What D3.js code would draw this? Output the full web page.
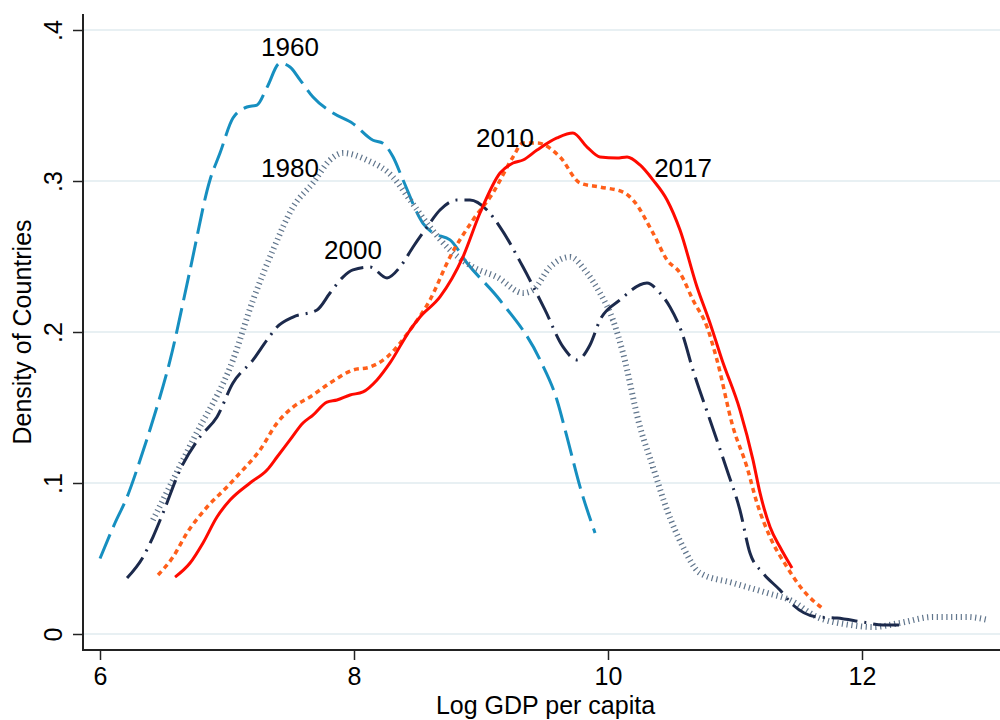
<!DOCTYPE html>
<meta charset="utf-8">
<body style="margin:0; background:#fff">
<script src="https://cdn.jsdelivr.net/npm/d3@7"></script>
<div id="chart"></div>
<script>

 // kernel density of log GDP per capita
 var x1960 = [6.00, 6.118, 6.213, 6.315, 6.417, 6.551, 6.709, 6.866, 6.945, 7.047, 7.157, 7.236, 7.315, 7.417, 7.496, 7.575, 7.677, 7.835, 7.992, 8.15, 8.228, 8.307, 8.386, 8.543, 8.622, 8.756, 8.89, 9.15, 9.465, 9.598, 9.677, 9.78, 9.898];
 var y1960 = [0.050, 0.0735, 0.0907, 0.115, 0.1417, 0.181, 0.241, 0.3007, 0.3185, 0.3417, 0.349, 0.3503, 0.362, 0.378, 0.3755, 0.367, 0.3556, 0.345, 0.338, 0.327, 0.325, 0.316, 0.3007, 0.272, 0.2656, 0.261, 0.2457, 0.221, 0.1815, 0.155, 0.1305, 0.0974, 0.0669];

 var x1980 = [6.417, 6.732, 7.047, 7.205, 7.362, 7.52, 7.677, 7.811, 7.913, 8.102, 8.307, 8.441, 8.598, 8.756, 8.937, 9.126, 9.331, 9.409, 9.543, 9.701, 9.835, 9.937, 10.039, 10.118, 10.252, 10.354, 10.465, 10.591, 10.724, 10.984, 11.252, 11.433, 11.646, 11.906, 12.087, 12.299, 12.559, 12.827, 12.992];
 var y1980 = [0.0755, 0.1285, 0.1815, 0.2212, 0.2543, 0.2828, 0.2987, 0.3139, 0.3185, 0.3139, 0.3026, 0.2874, 0.2695, 0.2543, 0.243, 0.2364, 0.2258, 0.2278, 0.243, 0.2497, 0.2391, 0.2258, 0.208, 0.1861, 0.1371, 0.1106, 0.0821, 0.0576, 0.0404, 0.0338, 0.0272, 0.0225, 0.0113, 0.006, 0.0046, 0.0073, 0.0113, 0.0113, 0.0093];

 var x2000 = [6.213, 6.339, 6.417, 6.496, 6.63, 6.787, 6.921, 7.047, 7.205, 7.315, 7.394, 7.52, 7.709, 7.811, 7.913, 7.992, 8.126, 8.26, 8.362, 8.465, 8.575, 8.677, 8.811, 8.913, 9.047, 9.15, 9.331, 9.504, 9.646, 9.756, 9.858, 9.937, 10.094, 10.307, 10.409, 10.488, 10.583, 10.669, 10.803, 10.937, 11.039, 11.118, 11.22, 11.354, 11.457, 11.646, 11.803, 12.008, 12.165, 12.339];
 var y2000 = [0.0371, 0.051, 0.0642, 0.0801, 0.1086, 0.1305, 0.1437, 0.1662, 0.1815, 0.1947, 0.2033, 0.2099, 0.2146, 0.2258, 0.2364, 0.2411, 0.243, 0.2358, 0.243, 0.2563, 0.2695, 0.2808, 0.2874, 0.2874, 0.2808, 0.2695, 0.243, 0.2146, 0.1901, 0.1815, 0.1914, 0.2079, 0.2212, 0.2325, 0.2258, 0.2166, 0.1993, 0.1748, 0.1417, 0.1086, 0.0821, 0.0536, 0.0404, 0.0291, 0.0192, 0.0113, 0.0106, 0.0079, 0.006, 0.006];

 var x2010 = [6.457, 6.575, 6.685, 6.843, 7.0, 7.102, 7.26, 7.394, 7.52, 7.654, 7.811, 7.992, 8.126, 8.26, 8.441, 8.598, 8.756, 8.937, 9.094, 9.252, 9.331, 9.441, 9.622, 9.78, 9.937, 10.118, 10.197, 10.354, 10.465, 10.567, 10.669, 10.78, 10.858, 10.984, 11.094, 11.173, 11.276, 11.409, 11.535, 11.685];
 var y2010 = [0.0391, 0.051, 0.0669, 0.0841, 0.0974, 0.1066, 0.1219, 0.1397, 0.1503, 0.157, 0.1662, 0.1748, 0.1768, 0.1834, 0.2013, 0.2212, 0.2497, 0.2742, 0.2921, 0.3159, 0.3252, 0.3252, 0.3159, 0.2987, 0.296, 0.2927, 0.2874, 0.2656, 0.2477, 0.2391, 0.2212, 0.2033, 0.1815, 0.1371, 0.1106, 0.0868, 0.0642, 0.0444, 0.0291, 0.0172];

 var x2017 = [6.591, 6.709, 6.811, 6.921, 7.024, 7.181, 7.315, 7.394, 7.496, 7.598, 7.677, 7.787, 7.866, 7.969, 8.071, 8.181, 8.283, 8.441, 8.52, 8.677, 8.858, 8.992, 9.15, 9.252, 9.331, 9.441, 9.598, 9.724, 9.835, 9.937, 10.071, 10.15, 10.252, 10.354, 10.465, 10.567, 10.701, 10.803, 10.898, 11.039, 11.142, 11.197, 11.276, 11.354, 11.449];
 var y2017 = [0.0377, 0.047, 0.0603, 0.0775, 0.0887, 0.1, 0.1086, 0.1172, 0.1285, 0.1397, 0.145, 0.1536, 0.155, 0.1583, 0.1603, 0.1682, 0.1795, 0.2013, 0.2099, 0.2232, 0.2497, 0.2788, 0.3053, 0.3119, 0.3139, 0.3205, 0.3285, 0.3318, 0.3225, 0.3159, 0.3152, 0.3159, 0.3106, 0.3007, 0.2874, 0.2675, 0.2298, 0.206, 0.1815, 0.1483, 0.1152, 0.0934, 0.0709, 0.0576, 0.0437];

 var years = ["1960", "1980", "2000", "2010", "2017"];
 var labelX = [7.496, 7.496, 7.992, 9.189, 10.591];
 var labelY = [0.389, 0.3086, 0.2543, 0.3285, 0.3086];

 var xTicks = [6, 8, 10, 12];
 var yTicks = [0, 0.1, 0.2, 0.3, 0.4];

 var W = 1000, H = 720;
 var box = {left: 83, right: 1000, top: 14, bottom: 650};

 var x = d3.scaleLinear().domain([6, 12]).range([100, 862]);
 var y = d3.scaleLinear().domain([0, 0.4]).range([634, 30]);

 var styles = {
     "1960": {color: "#168fc0", width: 3,   dash: "26,8"},
     "1980": {color: "#60758c", width: 6,   dash: "1.2,3.6"},
     "2000": {color: "#1c2a4c", width: 3,   dash: "26,7,2,7"},
     "2010": {color: "#ff5f1a", width: 3.5, dash: "5,4"},
     "2017": {color: "#ff0a00", width: 3,   dash: null}
 };

 var series = [
     {year: "1960", xs: x1960, ys: y1960},
     {year: "1980", xs: x1980, ys: y1980},
     {year: "2000", xs: x2000, ys: y2000},
     {year: "2010", xs: x2010, ys: y2010},
     {year: "2017", xs: x2017, ys: y2017}
 ];

 const svg = d3.select('#chart').append('svg')
               .attr('width', W)
               .attr('height', H)
               .attr('font-family', "'Liberation Sans', Arial, Helvetica, sans-serif");

 // gridlines
 svg.append('g')
    .selectAll('line')
    .data(yTicks)
    .enter()
    .append('line')
    .attr('x1', box.left + 1)
    .attr('x2', box.right)
    .attr('y1', d => y(d))
    .attr('y2', d => y(d))
    .attr('stroke', '#e8f0f3')
    .attr('stroke-width', 2);

 // curves
 var line = d3.line()
              .x(d => x(d[0]))
              .y(d => y(d[1]))
              .curve(d3.curveMonotoneX);

 svg.append('g')
    .selectAll('path')
    .data(series)
    .enter()
    .append('path')
    .attr('d', s => line(s.xs.map((v, i) => [v, s.ys[i]])))
    .attr('fill', 'none')
    .attr('stroke', s => styles[s.year].color)
    .attr('stroke-width', s => styles[s.year].width)
    .attr('stroke-dasharray', s => styles[s.year].dash)
    .attr('stroke-linejoin', 'round');

 // year labels
 svg.append('g')
    .selectAll('text')
    .data(years)
    .enter()
    .append('text')
    .attr('x', (d, i) => x(labelX[i]))
    .attr('y', (d, i) => y(labelY[i]))
    .attr('dy', '0.36em')
    .attr('text-anchor', 'middle')
    .attr('font-size', 26)
    .attr('fill', '#000')
    .text(d => d);

 // axes
 var yAxis = d3.axisLeft(y)
               .tickValues(yTicks)
               .tickSize(10)
               .tickSizeOuter(0)
               .tickFormat(d => d === 0 ? "0" : d3.format(".1f")(d).replace(/^0/, ""));

 var yg = svg.append('g')
             .attr('transform', 'translate(' + box.left + ',0)')
             .call(yAxis);
 yg.select('.domain').remove();
 yg.selectAll('.tick line').attr('stroke', '#222').attr('stroke-width', 1.5);
 yg.selectAll('.tick text')
   .attr('transform', 'rotate(-90)')
   .attr('text-anchor', 'middle')
   .attr('x', 0)
   .attr('y', -21)
   .attr('dy', null)
   .attr('font-size', 25)
   .attr('fill', '#000');

 var xAxis = d3.axisBottom(x)
               .tickValues(xTicks)
               .tickSize(10)
               .tickSizeOuter(0)
               .tickFormat(d3.format("d"));

 var xg = svg.append('g')
             .attr('transform', 'translate(0,' + box.bottom + ')')
             .call(xAxis);
 xg.select('.domain').remove();
 xg.selectAll('.tick line').attr('stroke', '#222').attr('stroke-width', 1.5);
 xg.selectAll('.tick text')
   .attr('y', 35)
   .attr('dy', null)
   .attr('font-size', 25)
   .attr('fill', '#000');

 svg.append('path')
    .attr('d', 'M' + box.left + ',' + box.top + 'V' + box.bottom + 'H' + box.right)
    .attr('fill', 'none')
    .attr('stroke', '#222')
    .attr('stroke-width', 2);

 // titles
 svg.append('text')
    .attr('x', (box.left + box.right) / 2 + 4)
    .attr('y', 714)
    .attr('text-anchor', 'middle')
    .attr('font-size', 25)
    .text('Log GDP per capita');

 svg.append('text')
    .attr('transform', 'translate(31,' + (box.top + box.bottom) / 2 + ') rotate(-90)')
    .attr('text-anchor', 'middle')
    .attr('font-size', 25)
    .text('Density of Countries');

</script>
